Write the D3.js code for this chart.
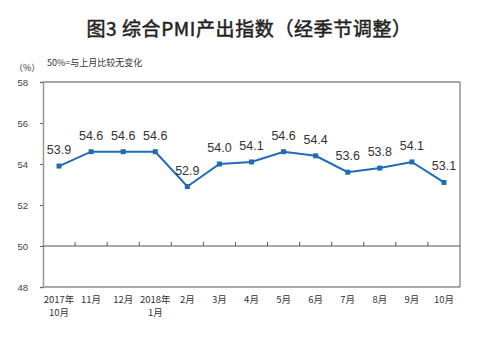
<!DOCTYPE html>
<html>
<head>
<meta charset="utf-8">
<script src="https://cdn.jsdelivr.net/npm/d3@7"></script>
<style>
  body { margin: 0; background: #fff; }
  svg { display: block; }
</style>
</head>
<body>
<div id="chart"></div>
<script>
// Dades
const months = ["2017年|10月", "11月", "12月", "2018年|1月", "2月", "3月", "4月", "5月", "6月", "7月", "8月", "9月", "10月"];
const pmiValues = [53.9, 54.6, 54.6, 54.6, 52.9, 54.0, 54.1, 54.6, 54.4, 53.6, 53.8, 54.1, 53.1];
const yTicks = [48, 50, 52, 54, 56, 58];

const W = 500, H = 351;
const margin = { top: 82, right: 40, bottom: 64, left: 43 };
const width = W - margin.left - margin.right;
const height = H - margin.top - margin.bottom;

const svg = d3.select("#chart")
    .append("svg")
    .attr("width", W)
    .attr("height", H);

// Títol
svg.append("text")
    .attr("x", 249)
    .attr("y", 36)
    .attr("text-anchor", "middle")
    .style("font-family", "'Noto Sans CJK SC', sans-serif")
    .style("font-size", "19px")
    .style("letter-spacing", "0.6px")
    .style("fill", "#222")
    .style("stroke", "#222")
    .style("stroke-width", "0.5px")
    .text("图3 综合PMI产出指数（经季节调整）");

svg.append("text")
    .attr("x", 14)
    .attr("y", 71)
    .style("font-family", "'Noto Sans CJK SC', sans-serif")
    .style("font-size", "9px")
    .style("fill", "#333")
    .text("（%）");

svg.append("text")
    .attr("x", 47)
    .attr("y", 66)
    .style("font-family", "'Noto Sans CJK SC', sans-serif")
    .style("font-size", "9px")
    .style("fill", "#333")
    .text("50%=与上月比较无变化");

const g = svg.append("g")
    .attr("transform", `translate(${margin.left}, ${margin.top})`);

const x = d3.scaleBand()
    .domain(months)
    .range([0, width]);

const y = d3.scaleLinear()
    .domain([48, 58])
    .range([height, 0]);

// Marc
g.append("line")
    .attr("x1", 0).attr("x2", width)
    .attr("y1", 0).attr("y2", 0)
    .attr("stroke", "#555").attr("stroke-width", 1.2);
g.append("line")
    .attr("x1", width).attr("x2", width)
    .attr("y1", 0).attr("y2", height)
    .attr("stroke", "#777").attr("stroke-width", 1.2);
g.append("line")
    .attr("x1", 0).attr("x2", width)
    .attr("y1", height).attr("y2", height)
    .attr("stroke", "#555").attr("stroke-width", 1.2);

// Eix Y
const yAxis = g.append("g")
    .call(d3.axisLeft(y).tickValues(yTicks).tickSize(3).tickPadding(12));
yAxis.select(".domain").attr("stroke", "#999").attr("stroke-width", 1.5);
yAxis.selectAll(".tick line").attr("stroke", "#666");
yAxis.selectAll(".tick text")
    .style("font-family", "'Liberation Sans', sans-serif")
    .style("font-size", "9.5px")
    .style("fill", "#444");

// Línia del 50
const axis50 = g.append("g")
    .attr("transform", `translate(0, ${y(50)})`);
axis50.append("line")
    .attr("x1", 0).attr("x2", width)
    .attr("stroke", "#555").attr("stroke-width", 1.2);
axis50.selectAll(".t50")
    .data(months.slice(1))
    .enter()
    .append("line")
        .attr("x1", d => x(d)).attr("x2", d => x(d))
        .attr("y1", 0).attr("y2", -4)
        .attr("stroke", "#555");

// Etiquetes X
const xLabels = g.selectAll(".xlab")
    .data(months)
    .enter()
    .append("text")
        .attr("x", d => x(d) + x.bandwidth() / 2)
        .attr("y", height + 16)
        .attr("text-anchor", "middle")
        .style("font-family", "'Noto Sans CJK SC', sans-serif")
        .style("font-size", "9.5px")
        .style("fill", "#333");
xLabels.each(function(d) {
    const parts = d.split("|");
    parts.forEach((p, i) => {
        d3.select(this).append("tspan")
            .attr("x", x(d) + x.bandwidth() / 2)
            .attr("dy", i === 0 ? 0 : 13)
            .text(p);
    });
});

const data = months.map((m, i) => ({ m: m, v: pmiValues[i] }));
const cx = d => x(d.m) + x.bandwidth() / 2;

// Línia
g.append("path")
    .datum(data)
    .attr("fill", "none")
    .attr("stroke", "#1f6bb5")
    .attr("stroke-width", 2)
    .attr("d", d3.line().x(cx).y(d => y(d.v)));

// Punts
g.selectAll(".pt")
    .data(data)
    .enter()
    .append("rect")
        .attr("x", d => cx(d) - 2.5)
        .attr("y", d => y(d.v) - 2.5)
        .attr("width", 5)
        .attr("height", 5)
        .attr("fill", "#1f6bb5");

// Valors
g.selectAll(".val")
    .data(data)
    .enter()
    .append("text")
        .attr("x", cx)
        .attr("y", d => y(d.v) - 12)
        .attr("text-anchor", "middle")
        .style("font-family", "'Liberation Sans', Arial, sans-serif")
        .style("font-size", "12.5px")
        .style("fill", "#333")
        .text(d => d.v.toFixed(1));
</script>
</body>
</html>
